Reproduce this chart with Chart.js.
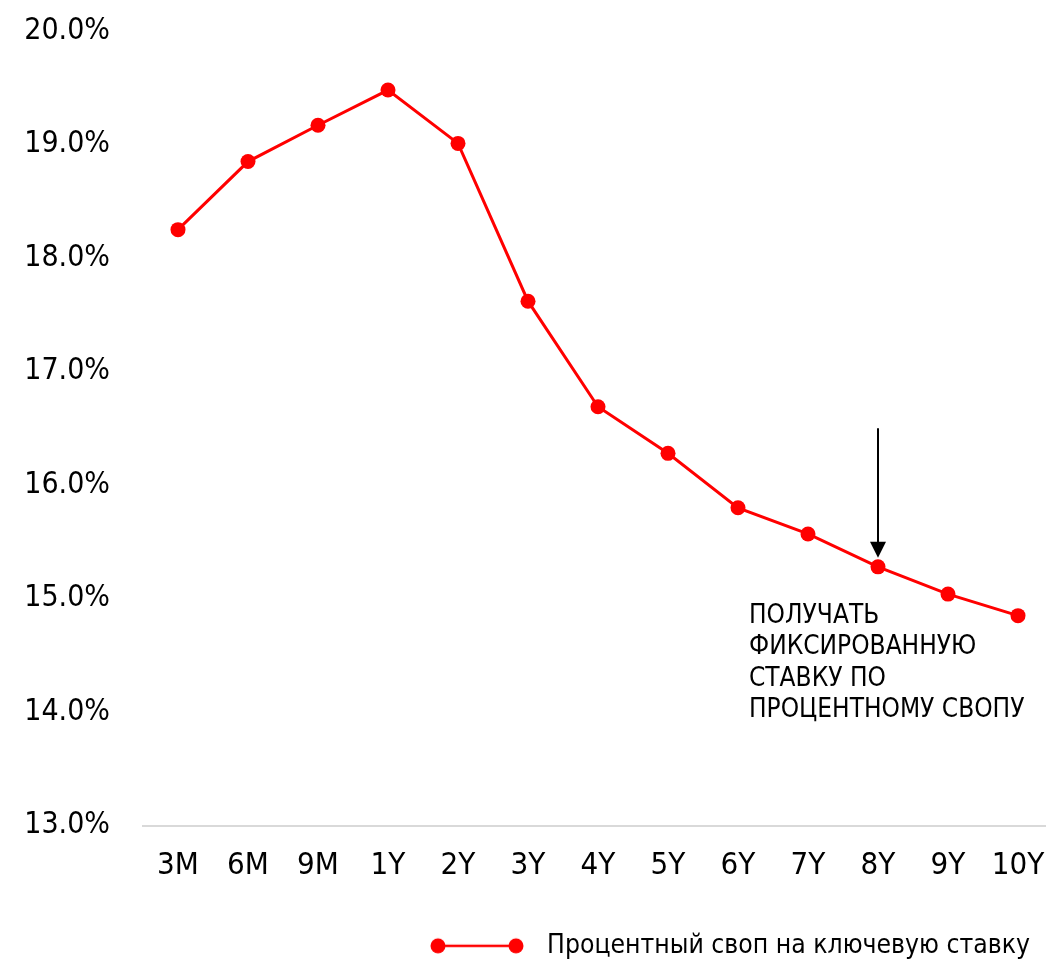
<!DOCTYPE html>
<html>
<head>
<meta charset="utf-8">
<script src="https://cdn.jsdelivr.net/npm/chart.js@4.4.0/dist/chart.umd.min.js"></script>
<style>
  html, body { margin: 0; padding: 0; background: #fff; }
  #wrap { width: 1046px; height: 963px; }
</style>
</head>
<body>
<div id="wrap"><canvas id="grafico_swap"></canvas></div>
<script>
const tenors = ['3M', '6M', '9M', '1Y', '2Y', '3Y', '4Y', '5Y', '6Y', '7Y', '8Y', '9Y', '10Y'];
const swapRates = [18.25, 18.85, 19.17, 19.48, 19.01, 17.62, 16.69, 16.28, 15.80, 15.57, 15.28, 15.04, 14.85];
const yTicks = [13, 14, 15, 16, 17, 18, 19, 20];
const seriesName = 'Процентный своп на ключевую ставку';
const noteLines = ['ПОЛУЧАТЬ', 'ФИКСИРОВАННУЮ', 'СТАВКУ ПО', 'ПРОЦЕНТНОМУ СВОПУ'];
const noteIndex = 10; // 8Y
const noteArrowTop = 16.5;

const fontFamily = "'DejaVu Sans Condensed', 'DejaVu Sans', sans-serif";
Chart.defaults.font.family = fontFamily;
Chart.defaults.color = '#000';

// legend marker: line with two dots (excel style)
function makeMarker() {
  const c = document.createElement('canvas');
  c.width = 104;
  c.height = 20;
  const g = c.getContext('2d');
  g.strokeStyle = '#ff0000';
  g.fillStyle = '#ff0000';
  g.lineWidth = 2.5;
  g.beginPath();
  g.moveTo(8, 10);
  g.lineTo(86, 10);
  g.stroke();
  [8, 86].forEach(cx => {
    g.beginPath();
    g.arc(cx, 10, 7.5, 0, Math.PI * 2);
    g.fill();
  });
  return c;
}

const notaSeta = {
  id: 'notaSeta',
  afterDatasetsDraw(chart) {
    const { ctx, scales: { x, y } } = chart;
    const px = x.getPixelForValue(noteIndex);
    const py = y.getPixelForValue(swapRates[noteIndex]);
    const top = y.getPixelForValue(noteArrowTop);
    const tip = py - 9;
    ctx.save();
    ctx.strokeStyle = '#000';
    ctx.fillStyle = '#000';
    ctx.lineWidth = 2;
    ctx.beginPath();
    ctx.moveTo(px, top);
    ctx.lineTo(px, tip - 12);
    ctx.stroke();
    ctx.beginPath();
    ctx.moveTo(px - 8, tip - 16);
    ctx.lineTo(px + 8, tip - 16);
    ctx.lineTo(px, tip);
    ctx.closePath();
    ctx.fill();
    ctx.font = '26px ' + fontFamily;
    ctx.textAlign = 'left';
    ctx.textBaseline = 'alphabetic';
    noteLines.forEach((linha, i) => {
      ctx.fillText(linha, px - 129, py + 56 + i * 31.4);
    });
    ctx.restore();
  }
};

const pontos = swapRates.map((v, i) => ({ x: i, y: v }));

const config_swap = {
  type: 'line',
  data: {
    datasets: [{
      label: seriesName,
      data: pontos,
      borderColor: '#ff0000',
      backgroundColor: '#ff0000',
      borderWidth: 3,
      pointRadius: 7.5,
      pointHoverRadius: 7.5,
      pointBorderWidth: 0,
      pointBackgroundColor: '#ff0000',
      tension: 0,
      clip: false
    }]
  },
  options: {
    responsive: true,
    maintainAspectRatio: false,
    devicePixelRatio: 1,
    animation: false,
    layout: { autoPadding: false, padding: { top: 31, right: 0, left: 0, bottom: -6 } },
    scales: {
      x: {
        type: 'linear',
        min: -0.5,
        max: 12.4,
        afterBuildTicks: (scale) => { scale.ticks = tenors.map((t, i) => ({ value: i })); },
        afterFit: (scale) => { scale.height = 91; },
        // transparent tick marks give the label gap without shrinking the plot
        grid: { display: true, color: 'transparent', drawOnChartArea: false, drawTicks: true, tickLength: 30 },
        border: { display: true, color: '#d9d9d9', width: 2 },
        ticks: {
          autoSkip: false,
          maxRotation: 0,
          padding: -8,
          font: { size: 31 },
          color: '#000',
          callback: (v) => tenors[v]
        }
      },
      y: {
        min: 13,
        max: 20,
        afterBuildTicks: (scale) => { scale.ticks = yTicks.map(v => ({ value: v })); },
        afterFit: (scale) => { scale.width = 143; },
        grid: { display: true, color: 'transparent', drawOnChartArea: false, drawTicks: true, tickLength: 33 },
        border: { display: false },
        ticks: {
          padding: 0,
          font: { size: 30 },
          color: '#000',
          callback: (v) => v.toFixed(1) + '%'
        }
      }
    },
    plugins: {
      tooltip: { enabled: false },
      legend: {
        position: 'bottom',
        align: 'end',
        labels: {
          usePointStyle: true,
          pointStyle: makeMarker(),
          pointStyleWidth: 104,
          padding: 16,
          color: '#000',
          font: { size: 26.3 }
        }
      }
    }
  },
  plugins: [notaSeta]
};

const grafico_swap = new Chart(document.getElementById('grafico_swap'), config_swap);
</script>
</body>
</html>
